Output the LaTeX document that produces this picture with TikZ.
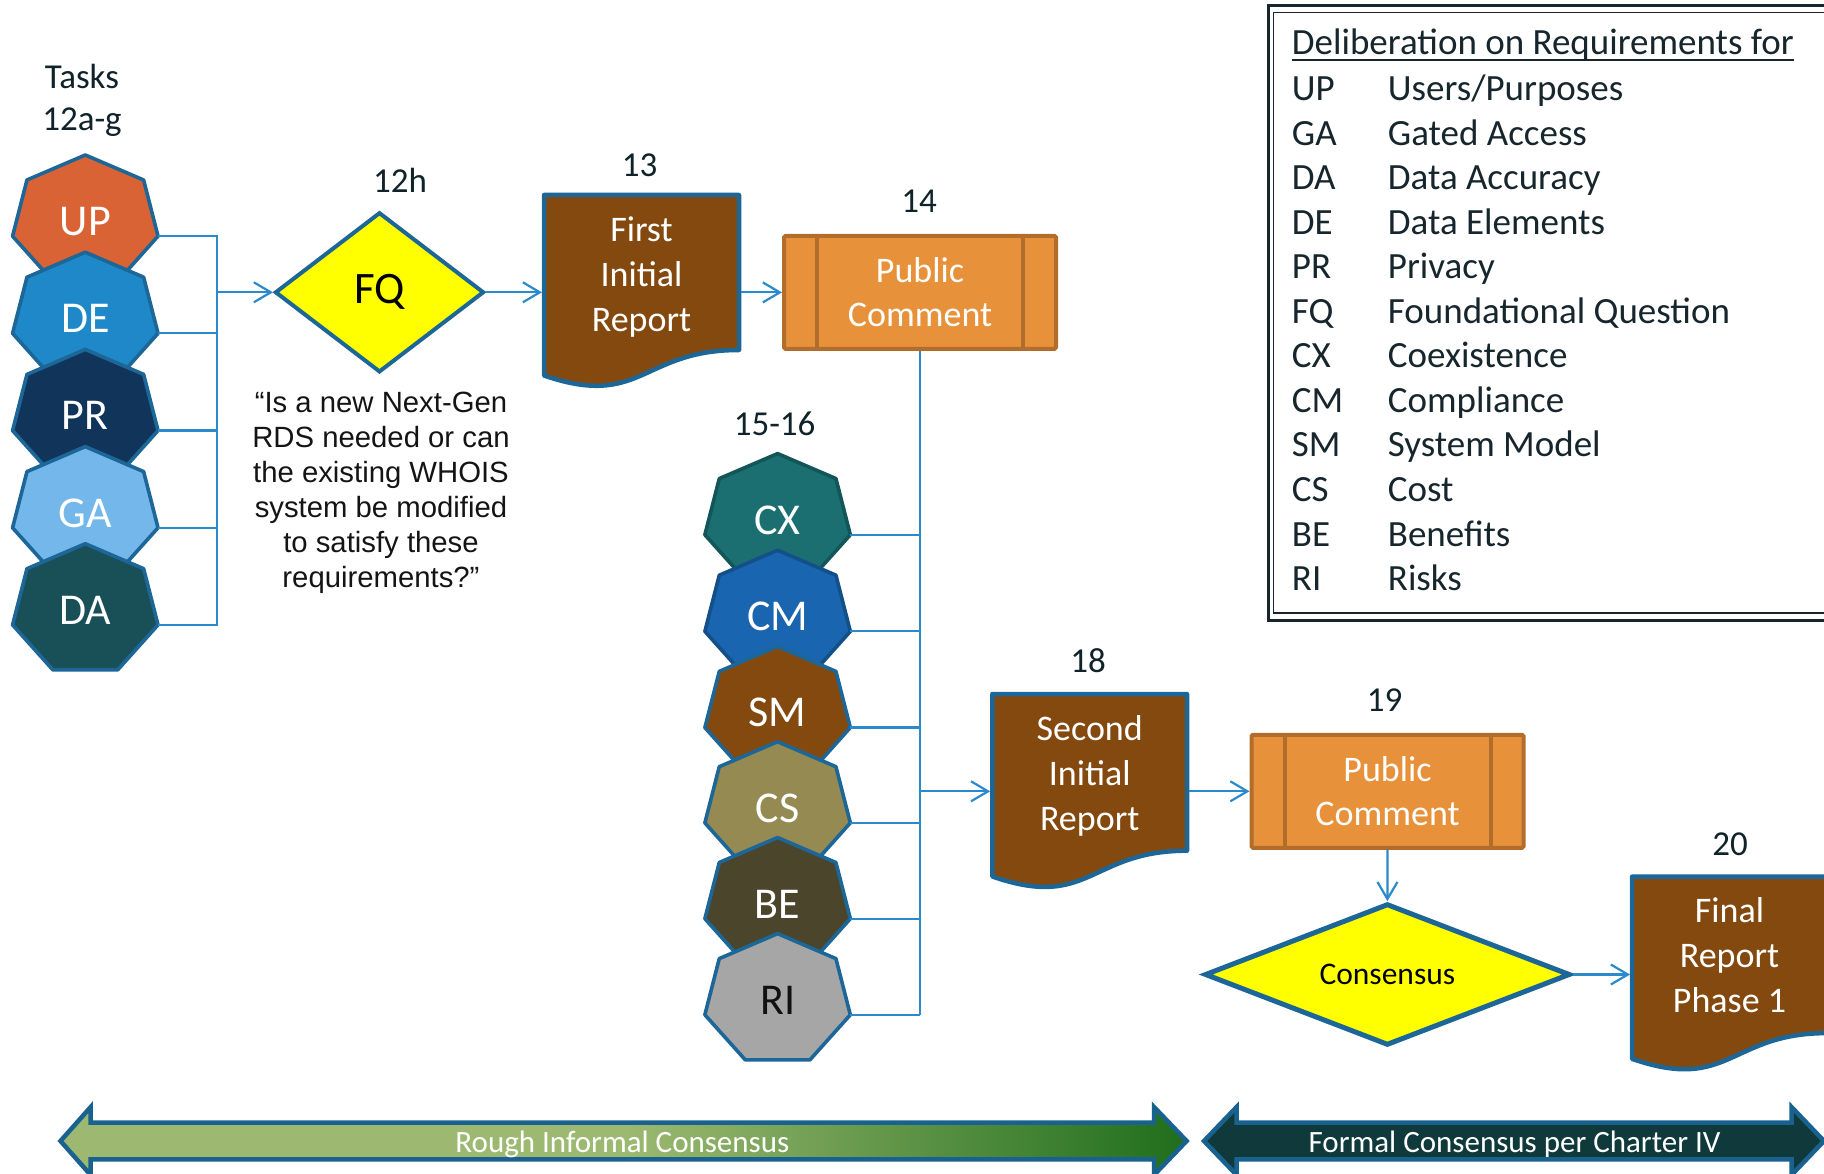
\documentclass[tikz,border=0pt]{standalone}
\usepackage{fontspec}
\setmainfont{Carlito}
\newfontfamily\arialfont{Liberation Sans}
\usetikzlibrary{shapes.geometric,arrows.meta,calc}
\definecolor{txtc}{HTML}{10222A}
\definecolor{connc}{HTML}{2B8ACB}
\definecolor{bordc}{HTML}{1D6698}
\definecolor{brownc}{HTML}{84490F}
\definecolor{pcfill}{HTML}{E8913B}
\definecolor{pcbord}{HTML}{B26C2C}
\definecolor{ylw}{HTML}{FFFF00}
\definecolor{roughL}{HTML}{9DB971}
\definecolor{roughD}{HTML}{1F6E1C}
\definecolor{formalc}{HTML}{0F393B}
\definecolor{barbord}{HTML}{19628F}
\definecolor{legc}{HTML}{16262C}
\definecolor{cUP}{HTML}{DA6336}
\definecolor{cDE}{HTML}{1E88C8}
\definecolor{cPR}{HTML}{10345A}
\definecolor{cGA}{HTML}{74B7EA}
\definecolor{cDA}{HTML}{195058}
\definecolor{cCX}{HTML}{1C6F71}
\definecolor{bCX}{HTML}{135659}
\definecolor{cCM}{HTML}{1A65AF}
\definecolor{bCM}{HTML}{13508A}
\definecolor{cCS}{HTML}{958A52}
\definecolor{cBE}{HTML}{4A452B}
\definecolor{cRI}{HTML}{A6A6A6}
\definecolor{dRI}{HTML}{111111}
\newcommand\fsz[2]{\fontsize{#1}{#2}\selectfont}
% #1 name/label, #2 x, #3 y, #4 fill, #5 border, #6 text colour
\newcommand\hept[6]{%
  \draw[fill=#4, draw=#5, line width=3.6, line join=round, shift={(#2,#3)}]
    (-90:74.6 and 66.4) -- (-38.57:74.6 and 66.4) -- (12.86:74.6 and 66.4) --
    (64.29:74.6 and 66.4) -- (115.71:74.6 and 66.4) -- (167.14:74.6 and 66.4) --
    (218.57:74.6 and 66.4) -- cycle;
  \node[heptlabel, text=#6] (#1) at (#2,#3) {#1};
  \coordinate (#1r) at ($(#2,#3)+(12.86:74.6 and 66.4)$);
}
\newcommand\legrow[3]{%
  \node[legtext] (la#1) at (1291.7,{100.5+44.55*#1}) {#2};
  \node[legtext] (ld#1) at (1387.7,{100.5+44.55*#1}) {#3};
}
\tikzset{
  conn/.style={draw=connc, line width=2.2},
  arr/.style={conn, -{Straight Barb[length=17pt,width=20pt]}},
  heptlabel/.style={inner sep=0, font=\fsz{44}{50}},
  numlabel/.style={inner sep=0, text=txtc, font=\fsz{35}{41}, anchor=base},
  docst/.style={fill=brownc, draw=bordc, line width=4.5, line join=round},
  doctext/.style={text=white, align=center, font=\fsz{36}{45}, minimum width=199, inner sep=0, outer sep=0},
  pcbox/.style={rectangle, fill=pcfill, draw=pcbord, line width=4, rounded corners=1.5,
    minimum width=272, minimum height=113, text=white, align=center, font=\fsz{36}{44}, inner sep=0},
  pcbar/.style={draw=pcbord, line width=4},
  decision/.style={diamond, draw=bordc, fill=ylw, inner sep=0, text=black},
  barst/.style={draw=barbord, line width=4.5, line join=miter},
  bartext/.style={text=white, font=\fsz{31}{37}, inner sep=0, anchor=base},
  legtext/.style={text=legc, font=\fsz{37}{44}, inner sep=0, anchor=base west},
  quotetext/.style={align=center, text=black!92, font=\arialfont\fsz{29.3}{35}, inner sep=0},
}
\begin{document}
\begin{tikzpicture}[x=1pt,y=-1pt]
\useasboundingbox (0,0) rectangle (1824,1174);
\clip (0,0) rectangle (1824,1174);

% ---------- legend ----------
\draw[line width=3, draw=legc] (1268,6) rectangle (1840,620.8);
\draw[line width=1.6, draw=legc] (1273.5,12.5) rectangle (1840,613);
\node[legtext] (LT) at (1291.7,54.5) {Deliberation on Requirements for};
\draw[draw=legc, line width=2] ([yshift=-6]LT.base west) -- ([yshift=-6]LT.base east);
\legrow{0}{UP}{Users/Purposes}
\legrow{1}{GA}{Gated Access}
\legrow{2}{DA}{Data Accuracy}
\legrow{3}{DE}{Data Elements}
\legrow{4}{PR}{Privacy}
\legrow{5}{FQ}{Foundational Question}
\legrow{6}{CX}{Coexistence}
\legrow{7}{CM}{Compliance}
\legrow{8}{SM}{System Model}
\legrow{9}{CS}{Cost}
\legrow{10}{BE}{Benefits}
\legrow{11}{RI}{Risks}

% ---------- tasks 12a-g ----------
\node[numlabel] (tasksA) at (82,89) {Tasks};
\node[numlabel] (tasksB) at (82,131) {12a-g};
\hept{UP}{85.3}{221.4}{cUP}{bordc}{white}
\hept{DE}{85.3}{318.6}{cDE}{bordc}{white}
\hept{PR}{85.3}{415.8}{cPR}{bordc}{white}
\hept{GA}{85.3}{513.0}{cGA}{bordc}{white}
\hept{DA}{85.3}{610.1}{cDA}{bordc}{white}

% ---------- 12h ----------
\node[numlabel] (n12h) at (400,193) {12h};
\node[decision, line width=4, minimum width=209, minimum height=160, aspect=1.3,
      font=\fsz{45}{50}] (FQ) at (379.5,292.3) {FQ};
\coordinate (J1) at (216.7,292.3);
\foreach \n in {UP,DE,PR,GA,DA} \draw[conn] (\n r) -| (J1);
\draw[arr] (J1) -- (FQ.west);
\node[quotetext] (Q) at (381,493) {“Is a new Next-Gen\\RDS needed or can\\the existing WHOIS\\system be modified\\to satisfy these\\requirements?”};

% ---------- 13 ----------
\node[numlabel] (n13) at (639.5,176.5) {13};
\draw[docst] (544,195) -- (739,195) -- (739,350) .. controls (641.5,350) and (641.5,409) .. (544,375.5) -- cycle;
\node[doctext] (D13) at (641.5,277.5) {First\\Initial\\Report};
\draw[arr] (FQ.east) -- (FQ.east -| D13.west);

% ---------- 14 ----------
\node[numlabel] (n14) at (919,213) {14};
\node[pcbox] (PC14) at (920,292.4) {Public\\Comment};
\draw[pcbar] ([xshift=35]PC14.north west) -- ([xshift=35]PC14.south west);
\draw[pcbar] ([xshift=-35]PC14.north east) -- ([xshift=-35]PC14.south east);
\draw[arr] (PC14.west -| D13.east) -- (PC14.west);

% ---------- 15-16 ----------
\node[numlabel] (n1516) at (774.6,435) {15-16};
\hept{CX}{777.6}{520.0}{cCX}{bCX}{white}
\hept{CM}{777.6}{616.6}{cCM}{bCM}{white}
\hept{SM}{777.6}{712.8}{brownc}{bordc}{white}
\hept{CS}{777.6}{808.1}{cCS}{bordc}{white}
\hept{BE}{777.6}{903.9}{cBE}{bordc}{white}
\hept{RI}{777.6}{1000.0}{cRI}{bordc}{dRI}
\draw[conn] (PC14.south) -- (PC14.south |- RIr);
\foreach \n in {CX,CM,SM,CS,BE,RI} \draw[conn] (\n r) -- (\n r -| PC14.south);

% ---------- 18 ----------
\node[numlabel] (n18) at (1088,672.5) {18};
\draw[docst] (992.4,694) -- (1187,694) -- (1187,850.7) .. controls (1089.7,850.7) and (1089.7,910.4) .. (992.4,876.5) -- cycle;
\node[doctext] (D18) at (1089.7,775.5) {Second\\Initial\\Report};

% ---------- 19 ----------
\node[numlabel] (n19) at (1384.5,711.5) {19};
\node[pcbox] (PC19) at (1387.5,791.3) {Public\\Comment};
\draw[pcbar] ([xshift=35]PC19.north west) -- ([xshift=35]PC19.south west);
\draw[pcbar] ([xshift=-35]PC19.north east) -- ([xshift=-35]PC19.south east);
\draw[arr] (PC14.south |- PC19.west) -- (PC19.west -| D18.west);
\draw[arr] (PC19.west -| D18.east) -- (PC19.west);

\node[decision, line width=5, minimum width=365.5, minimum height=141.7, aspect=2.58,
      font=\fsz{31.5}{36}] (CON) at (1387.4,974.5) {Consensus};
\draw[arr] (PC19.south) -- (CON.north);

% ---------- 20 ----------
\node[numlabel] (n20) at (1730,855) {20};
\draw[docst] (1632,876.7) -- (1827,876.7) -- (1827,1033.1) .. controls (1729.5,1033.1) and (1729.5,1092.7) .. (1632,1058.8) -- cycle;
\node[doctext] (D20) at (1729.5,955) {Final\\Report\\Phase 1};
\draw[arr] (CON.east) -- (CON.east -| D20.west);

% ---------- bottom arrows ----------
\draw[barst, left color=roughL, right color=roughD, middle color=roughL]
  (60.5,1141) -- (90.7,1107) -- (90.7,1122.7) -- (1154,1122.7) -- (1154,1107) -- (1186.6,1141)
  -- (1154,1175) -- (1154,1159.3) -- (90.7,1159.3) -- (90.7,1175) -- cycle;
\node[bartext] (RIC) at (622.4,1152) {Rough Informal Consensus};
\draw[barst, fill=formalc]
  (1204,1141) -- (1236.6,1107) -- (1236.6,1122.7) -- (1791.5,1122.7) -- (1791.5,1107) -- (1824,1141)
  -- (1791.5,1175) -- (1791.5,1159.3) -- (1236.6,1159.3) -- (1236.6,1175) -- cycle;
\node[bartext] (FCC) at (1514.6,1152) {Formal Consensus per Charter IV};
\end{tikzpicture}
\end{document}
